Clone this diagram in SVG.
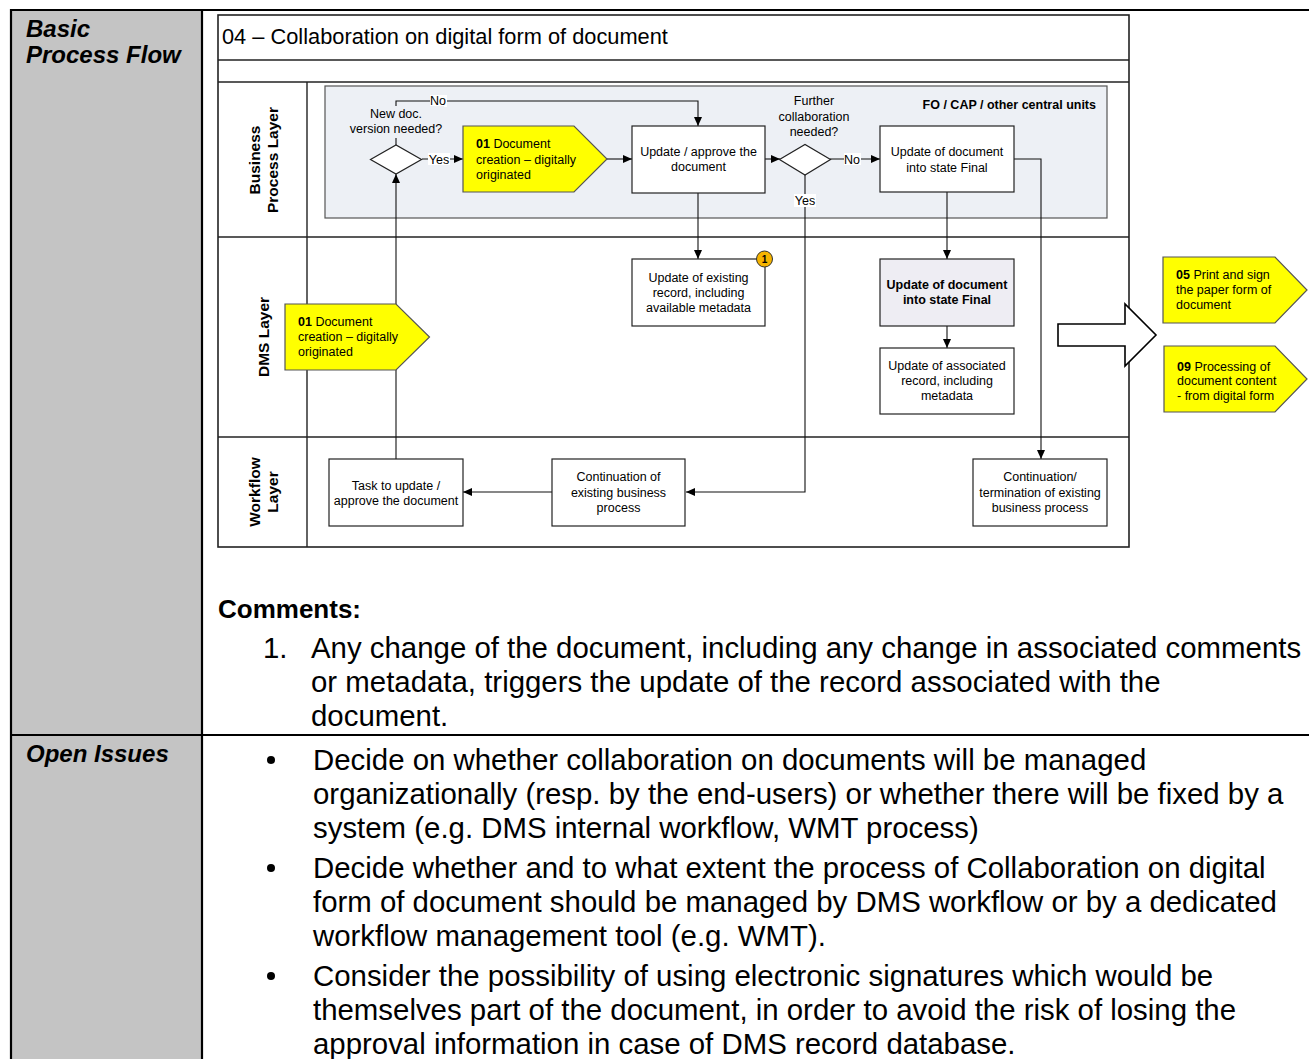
<svg xmlns="http://www.w3.org/2000/svg" width="1309" height="1059" viewBox="0 0 1309 1059">
  <style>
    text { font-family: "Liberation Sans", Arial, sans-serif; fill: #000; }
    .s { font-size: 12.5px; }
    .c { text-anchor: middle; }
    .b { font-weight: bold; }
    .lane { font-size: 15.5px; font-weight: bold; text-anchor: middle; }
    .head { font-size: 24px; font-weight: bold; font-style: italic; }
    .big { font-size: 29.4px; }
    .box { fill: #fff; stroke: #222; stroke-width: 1.2; }
    .boxg { fill: #eeedf3; stroke: #222; stroke-width: 1.2; }
    .sub { fill: #ffff00; stroke: #555; stroke-width: 1.2; }
    .dia { fill: #fff; stroke: #222; stroke-width: 1.2; }
    .frame { fill: none; stroke: #222; stroke-width: 1.6; }
    .grid { stroke: #222; stroke-width: 1.4; }
    .tbl { stroke: #000; stroke-width: 2.2; }
    .con { fill: none; stroke: #111; stroke-width: 1.1; }
    .lblbg { fill: #fff; }
  </style>
  <defs>
    <marker id="arr" markerUnits="userSpaceOnUse" markerWidth="9" markerHeight="8" refX="9" refY="4" orient="auto">
      <path d="M0,0 L9,4 L0,8 z" fill="#000"/>
    </marker>
  </defs>

  <!-- page table -->
  <g id="table">
    <rect x="11" y="10" width="191" height="1049" fill="#c4c4c4"/>
    <line class="tbl" x1="10" y1="10" x2="1309" y2="10"/>
    <line class="tbl" x1="11" y1="9" x2="11" y2="1059"/>
    <line class="tbl" x1="202" y1="9" x2="202" y2="1059"/>
    <line class="tbl" x1="10" y1="735" x2="1309" y2="735"/>
    <text class="head" x="26" y="37">Basic</text>
    <text class="head" x="26" y="63">Process Flow</text>
    <text class="head" x="26" y="762">Open Issues</text>
  </g>

  <!-- swimlane frame -->
  <g id="frame">
    <rect x="218" y="15" width="911" height="532" fill="#fff" class="frame"/>
    <line class="grid" x1="218" y1="60" x2="1129" y2="60"/>
    <line class="grid" x1="218" y1="82" x2="1129" y2="82"/>
    <line class="grid" x1="218" y1="237" x2="1129" y2="237"/>
    <line class="grid" x1="218" y1="437" x2="1129" y2="437"/>
    <line class="grid" x1="307" y1="82" x2="307" y2="547"/>
    <text x="222" y="43.5" style="font-size:21.8px">04 – Collaboration on digital form of document</text>
    <text class="lane" transform="translate(260,160) rotate(-90)">Business</text>
    <text class="lane" transform="translate(278,160) rotate(-90)">Process Layer</text>
    <text class="lane" transform="translate(269,337) rotate(-90)">DMS Layer</text>
    <text class="lane" transform="translate(260,492) rotate(-90)">Workflow</text>
    <text class="lane" transform="translate(278,492) rotate(-90)">Layer</text>
  </g>

  <!-- organisational pool -->
  <g id="pool">
    <rect x="325" y="86" width="782" height="132" fill="#edf0f5" stroke="#555" stroke-width="1.2"/>
    <text class="s b" x="1096" y="108.5" text-anchor="end">FO / CAP / other central units</text>
  </g>

  <!-- connectors -->
  <g id="connectors">
    <path class="con" d="M396,145 V101 H698 V126" marker-end="url(#arr)"/>
    <path class="con" d="M422,159 H463" marker-end="url(#arr)"/>
    <path class="con" d="M607,159 H632" marker-end="url(#arr)"/>
    <path class="con" d="M765,159 H780" marker-end="url(#arr)"/>
    <path class="con" d="M830,159 H880" marker-end="url(#arr)"/>
    <path class="con" d="M805,175 V492 H686" marker-end="url(#arr)"/>
    <path class="con" d="M1014,159 H1041 V459" marker-end="url(#arr)"/>
    <path class="con" d="M698,193 V259" marker-end="url(#arr)"/>
    <path class="con" d="M947,192 V259" marker-end="url(#arr)"/>
    <path class="con" d="M947,326 V348" marker-end="url(#arr)"/>
    <path class="con" d="M552,492 H463" marker-end="url(#arr)"/>
    <path class="con" d="M396,459 V174" marker-end="url(#arr)"/>
    <!-- connector labels -->
    <rect class="lblbg" x="430" y="95" width="17" height="12"/>
    <text class="s c" x="438" y="105">No</text>
    <rect class="lblbg" x="428" y="153" width="22" height="12"/>
    <text class="s c" x="439" y="163.5">Yes</text>
    <rect class="lblbg" x="844" y="153" width="17" height="12"/>
    <text class="s c" x="852" y="163.5">No</text>
    <rect class="lblbg" x="794" y="194" width="22" height="13"/>
    <text class="s c" x="805" y="205">Yes</text>
  </g>

  <!-- decision: new version -->
  <g id="dec-new-version">
    <rect x="348" y="106" width="96" height="32" fill="#edf0f5"/>
    <text class="s c" x="396" y="118">New doc.</text>
    <text class="s c" x="396" y="133">version needed?</text>
    <polygon class="dia" points="370.5,159.5 396,145 421.5,159.5 396,174"/>
  </g>

  <!-- sub-process 01 (business layer) -->
  <g id="sub01-bp">
    <polygon class="sub" points="463,126 574,126 607,159 574,192 463,192"/>
    <text class="s" x="476" y="148"><tspan class="b">01</tspan> Document</text>
    <text class="s" x="476" y="163.5">creation – digitally</text>
    <text class="s" x="476" y="179">originated</text>
  </g>

  <g id="update-approve">
    <rect class="box" x="632" y="126" width="133" height="67"/>
    <text class="s c" x="698.5" y="156">Update / approve the</text>
    <text class="s c" x="698.5" y="171">document</text>
  </g>

  <g id="dec-further">
    <text class="s c" x="814" y="105">Further</text>
    <text class="s c" x="814" y="120.5">collaboration</text>
    <text class="s c" x="814" y="135.5">needed?</text>
    <polygon class="dia" points="779.5,159.5 805,144.5 830.5,159.5 805,175"/>
  </g>

  <g id="final-bp">
    <rect class="box" x="880" y="126" width="134" height="66"/>
    <text class="s c" x="947" y="156">Update of document</text>
    <text class="s c" x="947" y="171.5">into state Final</text>
  </g>

  <!-- DMS layer -->
  <g id="update-record">
    <rect class="box" x="632" y="259" width="133" height="67"/>
    <text class="s c" x="698.5" y="282">Update of existing</text>
    <text class="s c" x="698.5" y="297">record, including</text>
    <text class="s c" x="698.5" y="312">available metadata</text>
    <circle cx="764.5" cy="259" r="8" fill="#f6b400" stroke="#333" stroke-width="1"/>
    <text x="764.5" y="263" text-anchor="middle" style="font-size:10px;font-weight:bold">1</text>
  </g>

  <g id="final-dms">
    <rect class="boxg" x="880" y="259" width="134" height="67"/>
    <text class="s c b" x="947" y="289">Update of document</text>
    <text class="s c b" x="947" y="304">into state Final</text>
  </g>

  <g id="assoc-record">
    <rect class="box" x="880" y="348" width="134" height="66"/>
    <text class="s c" x="947" y="370">Update of associated</text>
    <text class="s c" x="947" y="385">record, including</text>
    <text class="s c" x="947" y="400">metadata</text>
  </g>

  <g id="sub01-dms">
    <polygon class="sub" points="285,304 396,304 429.5,337 396,370 285,370"/>
    <text class="s" x="298" y="326"><tspan class="b">01</tspan> Document</text>
    <text class="s" x="298" y="341">creation – digitally</text>
    <text class="s" x="298" y="356">originated</text>
  </g>

  <!-- workflow layer -->
  <g id="task">
    <rect class="box" x="329" y="459" width="134" height="67"/>
    <text class="s c" x="396" y="489.5">Task to update /</text>
    <text class="s c" x="396" y="504.5">approve the document</text>
  </g>

  <g id="continuation">
    <rect class="box" x="552" y="459" width="133" height="67"/>
    <text class="s c" x="618.5" y="481">Continuation of</text>
    <text class="s c" x="618.5" y="496.5">existing business</text>
    <text class="s c" x="618.5" y="511.5">process</text>
  </g>

  <g id="termination">
    <rect class="box" x="973" y="459" width="134" height="67"/>
    <text class="s c" x="1040" y="481">Continuation/</text>
    <text class="s c" x="1040" y="496.5">termination of existing</text>
    <text class="s c" x="1040" y="511.5">business process</text>
  </g>

  <!-- hand-over to following processes -->
  <g id="handover-arrow">
    <polygon points="1058,324 1125,324 1125,304 1156,335 1125,366 1125,346 1058,346" fill="#fff" stroke="#000" stroke-width="1.6"/>
  </g>

  <g id="sub05">
    <polygon class="sub" points="1163,257 1275,257 1307,290 1275,323 1163,323"/>
    <text class="s" x="1176" y="279"><tspan class="b">05</tspan> Print and sign</text>
    <text class="s" x="1176" y="294">the paper form of</text>
    <text class="s" x="1176" y="308.5">document</text>
  </g>

  <g id="sub09">
    <polygon class="sub" points="1164,346 1275,346 1307,379 1275,412 1164,412"/>
    <text class="s" x="1177" y="370.5"><tspan class="b">09</tspan> Processing of</text>
    <text class="s" x="1177" y="385">document content</text>
    <text class="s" x="1177" y="399.5">- from digital form</text>
  </g>

  <!-- comments -->
  <g id="comments">
    <text x="218" y="618" style="font-size:26px;font-weight:bold">Comments:</text>
    <text class="big" x="263" y="658">1.</text>
    <text class="big" x="311" y="658">Any change of the document, including any change in associated comments</text>
    <text class="big" x="311" y="692">or metadata, triggers the update of the record associated with the</text>
    <text class="big" x="311" y="726">document.</text>
  </g>

  <!-- open issues -->
  <g id="open-issues">
    <circle cx="271" cy="760" r="4"/>
    <text class="big" x="313" y="770">Decide on whether collaboration on documents will be managed</text>
    <text class="big" x="313" y="804">organizationally (resp. by the end-users) or whether there will be fixed by a</text>
    <text class="big" x="313" y="838">system (e.g. DMS internal workflow, WMT process)</text>
    <circle cx="271" cy="868" r="4"/>
    <text class="big" x="313" y="878">Decide whether and to what extent the process of Collaboration on digital</text>
    <text class="big" x="313" y="912">form of document should be managed by DMS workflow or by a dedicated</text>
    <text class="big" x="313" y="946">workflow management tool (e.g. WMT).</text>
    <circle cx="271" cy="976" r="4"/>
    <text class="big" x="313" y="986">Consider the possibility of using electronic signatures which would be</text>
    <text class="big" x="313" y="1020">themselves part of the document, in order to avoid the risk of losing the</text>
    <text class="big" x="313" y="1054">approval information in case of DMS record database.</text>
  </g>
</svg>
